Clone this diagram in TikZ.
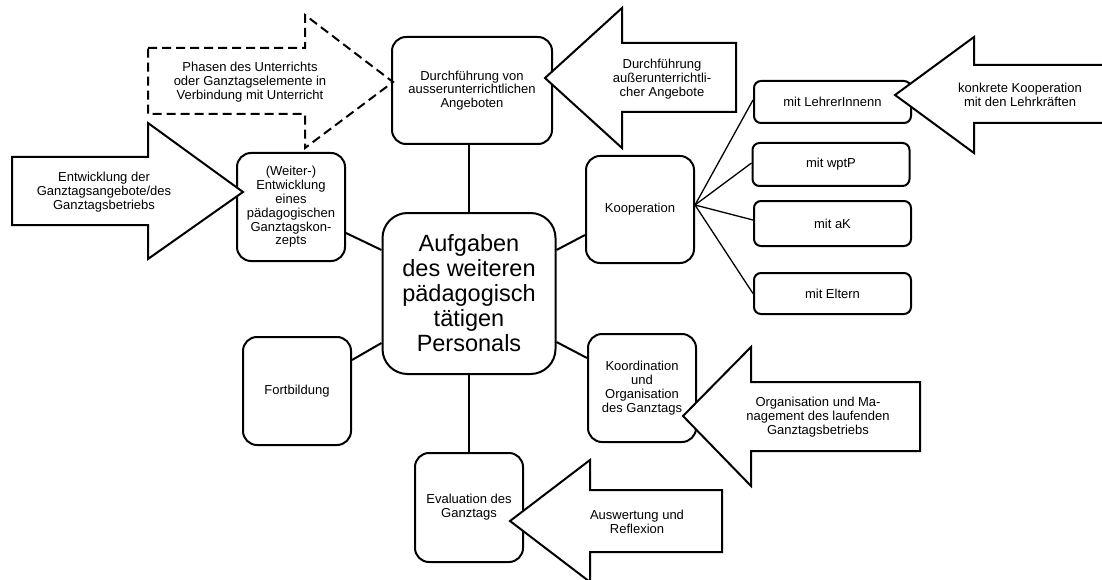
\documentclass[tikz,border=0pt]{standalone}
\usepackage{fontspec}
\setmainfont{Liberation Sans}
\usetikzlibrary{calc}
\tikzset{
  box/.style={draw, line width=2pt, rounded corners=14pt, align=center,
    font=\fontsize{13}{13.8}\selectfont, inner sep=2pt,
    minimum width=108pt, minimum height=108pt},
  subbox/.style={box, rounded corners=7pt, minimum width=157pt, minimum height=42pt},
  bigbox/.style={box, rounded corners=25pt, font=\fontsize{23.5}{25}\selectfont,
    minimum width=173pt, minimum height=161pt},
  link/.style={line width=2pt},
  sublink/.style={line width=1.3pt},
  blockarrow/.style={draw, fill=white, line width=2pt, line join=miter},
  dasharrow/.style={draw, line width=2pt, line join=miter, dash pattern=on 9pt off 5pt},
  lbl/.style={align=center, font=\fontsize{13}{13.8}\selectfont, inner sep=0pt}
}
\begin{document}
\begin{tikzpicture}[x=1pt, y=-1pt]
\useasboundingbox (0,0) rectangle (1102,580);

% boxes
\node[bigbox] (central) at (469,293.5) {Aufgaben\\des weiteren\\pädagogisch\\tätigen\\Personals};
\node[box, minimum width=160pt, minimum height=107pt] (dur) at (472,90.5) {Durchführung von\\ausserunterrichtlichen\\Angeboten};
\node[box] (weiter) at (291,207) {(Weiter-)\\Entwicklung\\eines\\pädagogischen\\Ganztagskon-\\zepts};
\node[box, minimum height=107pt] (koop) at (640,209.5) {Kooperation};
\node[box] (koord) at (642,388) {Koordination\\und\\Organisation\\des Ganztags};
\node[box] (fort) at (297,391) {Fortbildung};
\node[box, minimum height=109pt] (eval) at (469,507.5) {Evaluation des\\Ganztags};

\node[subbox] (lehrer) at (832.5,102) {mit LehrerInnenn};
\node[subbox, minimum height=43pt] (wptp) at (831,164.5) {mit wptP};
\node[subbox, minimum height=45pt] (ak) at (832.5,223.5) {mit aK};
\node[subbox, minimum height=41pt] (eltern) at (832.5,293.5) {mit Eltern};

% connectors
\draw[link] (central.north) -- (central.north |- dur.south);
\draw[link] (central.south) -- (eval.north);
\draw[link] ([yshift=43.5pt]central.west) -- ([yshift=-26pt]weiter.east);
\draw[link] ([yshift=-49.5pt]central.west) -- ([yshift=31pt]fort.east);
\draw[link] ([yshift=43.5pt]central.east) -- ([yshift=-25.5pt]koop.west);
\draw[link] ([yshift=-48.5pt]central.east) -- ([yshift=30pt]koord.west);

\draw[sublink] ([yshift=4.5pt]koop.east) -- ([yshift=2pt]lehrer.west);
\draw[sublink] ([yshift=4.5pt]koop.east) -- ([yshift=1.5pt]wptp.west);
\draw[sublink] ([yshift=4.5pt]koop.east) -- ([yshift=3.5pt]ak.west);
\draw[sublink] ([yshift=4.5pt]koop.east) -- (eltern.west);

% block arrows
\draw[dasharrow] (148,48) -- (305,48) -- (305,15) -- (393,82) -- (305,148) -- (305,114) -- (148,114) -- cycle;
\node[lbl] (tphasen) at (250,82) {Phasen des Unterrichts\\oder Ganztagselemente in\\Verbindung mit Unterricht};

\draw[blockarrow] (12,157) -- (148,157) -- (148,123) -- (243,192) -- (148,259) -- (148,225) -- (12,225) -- cycle;
\node[lbl] (tentw) at (104,192) {Entwicklung der\\Ganztagsangebote/des\\Ganztagsbetriebs};

\draw[blockarrow] (736,43) -- (622,43) -- (622,8) -- (545,78) -- (622,148) -- (622,112) -- (736,112) -- cycle;
\node[lbl] (tdurch) at (662,79) {Durchführung\\außerunterrichtli-\\cher Angebote};

\draw[blockarrow] (1112,65) -- (974,65) -- (974,37) -- (895,95) -- (974,153) -- (974,123) -- (1112,123);
\node[lbl] (tkoop) at (1020,95) {konkrete Kooperation\\mit den Lehrkräften};

\draw[blockarrow] (920,382) -- (751,382) -- (751,347) -- (683,416) -- (751,486) -- (751,451) -- (920,451) -- cycle;
\node[lbl] (torg) at (818,417) {Organisation und Ma-\\nagement des laufenden\\Ganztagsbetriebs};

\draw[blockarrow] (722,490) -- (590,490) -- (590,460) -- (510,521) -- (590,582) -- (590,552) -- (722,552) -- cycle;
\node[lbl] (tausw) at (637,522) {Auswertung und\\Reflexion};
\end{tikzpicture}
\end{document}
